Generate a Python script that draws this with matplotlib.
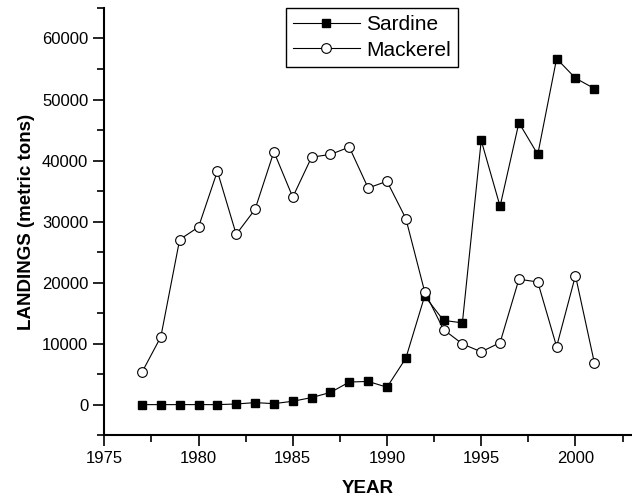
import matplotlib.pyplot as plt
from matplotlib.ticker import MultipleLocator

plt.rcParams['font.family'] = ['Liberation Sans', 'DejaVu Sans']

# landings data (metric tons)
years = list(range(1977, 2002))
sardine = [0, 0, 0, 0, 0, 100, 330, 160, 550, 1150, 2000, 3700, 3800, 2850,
           7600, 17800, 13800, 13400, 43300, 32500, 46200, 41000, 56700, 53500, 51800]
mackerel = [5300, 11100, 27050, 29100, 38250, 27900, 32000, 41450, 34000, 40550, 41000,
            42200, 35500, 36600, 30500, 18500, 12300, 9950, 8650, 10150, 20550,
            20100, 9500, 21150, 6900]

fig = plt.figure(figsize=(6.32, 4.99), dpi=100)
ax = fig.add_axes([0.165, 0.128, 0.835, 0.856])

ax.plot(years, sardine, color='black', lw=0.8, marker='s', ms=6,
        mfc='black', mec='black', label='Sardine')
ax.plot(years, mackerel, color='black', lw=0.8, marker='o', ms=7,
        mfc='white', mec='black', mew=0.8, label='Mackerel')

ax.set_xlim(1975, 2003)
ax.set_ylim(-5000, 65000)
ax.xaxis.set_major_locator(MultipleLocator(5))
ax.xaxis.set_minor_locator(MultipleLocator(2.5))
ax.yaxis.set_major_locator(MultipleLocator(10000))
ax.yaxis.set_minor_locator(MultipleLocator(5000))
ax.set_yticks(range(0, 60001, 10000))

for s in ['top', 'right']:
    ax.spines[s].set_visible(False)
for s in ['left', 'bottom']:
    ax.spines[s].set_linewidth(1.5)

ax.tick_params(which='major', length=8, width=1.2, labelsize=12)
ax.tick_params(which='minor', length=5, width=1.2)

ax.set_xlabel('YEAR', fontsize=13.5, fontweight='bold', labelpad=10)
ax.set_ylabel('LANDINGS (metric tons)', fontsize=13.5, fontweight='bold', labelpad=5)

leg = ax.legend(loc='upper center', bbox_to_anchor=(0.507, 1.0), fontsize=15,
                fancybox=False, edgecolor='black', framealpha=1,
                handlelength=3.2, borderpad=0.35, labelspacing=0.3,
                handletextpad=0.3, borderaxespad=0)
leg.get_frame().set_linewidth(1.0)

fig.savefig('out.png', dpi=100)
